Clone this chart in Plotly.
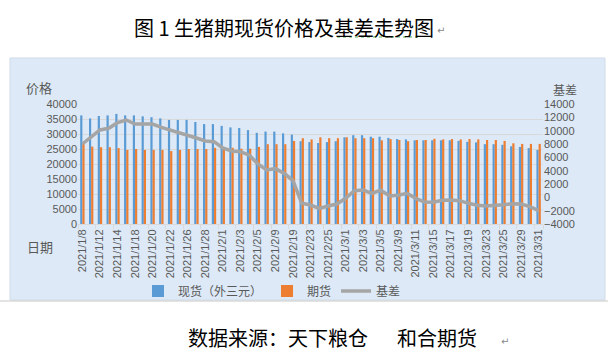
import plotly.graph_objects as go

dates = ["2021/1/8", "2021/1/11", "2021/1/12", "2021/1/13", "2021/1/14", "2021/1/15",
         "2021/1/18", "2021/1/19", "2021/1/20", "2021/1/21", "2021/1/22", "2021/1/25",
         "2021/1/26", "2021/1/27", "2021/1/28", "2021/1/29", "2021/2/1", "2021/2/2",
         "2021/2/3", "2021/2/4", "2021/2/5", "2021/2/8", "2021/2/9", "2021/2/10",
         "2021/2/19", "2021/2/22", "2021/2/23", "2021/2/24", "2021/2/25", "2021/2/26",
         "2021/3/1", "2021/3/2", "2021/3/3", "2021/3/4", "2021/3/5", "2021/3/8",
         "2021/3/9", "2021/3/10", "2021/3/11", "2021/3/12", "2021/3/15", "2021/3/16",
         "2021/3/17", "2021/3/18", "2021/3/19", "2021/3/22", "2021/3/23", "2021/3/24",
         "2021/3/25", "2021/3/26", "2021/3/29", "2021/3/30", "2021/3/31"]

spot = [36200, 35200, 36000, 36200, 36700, 36200, 36200, 35900, 35600, 35200, 34700, 34700,
        34700, 34000, 33300, 33300, 32700, 32200, 32000, 31300, 30400, 30800, 30800, 30200,
        29800, 27600, 27300, 27000, 27300, 27600, 28900, 29600, 29600, 29100, 29100, 28700,
        28300, 28200, 27900, 27900, 27900, 27900, 27900, 27700, 27400, 27200, 26600, 26600,
        26400, 25900, 25700, 25300, 24700]

futures = [26700, 25800, 25600, 25600, 25300, 24700, 25000, 24700, 24700, 24700, 24300, 24700,
           25000, 25000, 25000, 25400, 25100, 25400, 25100, 25100, 25700, 26600, 26600, 26600,
           27700, 28600, 28200, 28900, 28600, 28600, 28900, 28600, 28600, 28600, 27900, 28300,
           28000, 27600, 28000, 28000, 28400, 28200, 28300, 28200, 28300, 28200, 28000, 28000,
           27700, 26900, 26700, 26700, 26700]

basis = [8000, 9000, 10100, 10350, 11200, 11600, 11000, 11000, 11000, 10500, 10100, 9800,
         9350, 8900, 8450, 8350, 7400, 6950, 6850, 6350, 5000, 4100, 4300, 3600,
         2500, -900, -1150, -1650, -1300, -1000, -150, 1000, 1100, 600, 1100, 200,
         300, 600, -150, -700, -750, -450, -400, -500, -900, -1200, -1300, -1250,
         -1100, -950, -1000, -1400, -2000]

series_names = ["现货（外三元）", "期货", "基差"]
title_text = "图 1 生猪期现货价格及基差走势图"
source_text = "数据来源：天下粮仓　  和合期货"

W, H = 613, 363
L, R, T, B = 78, 543, 104, 224   # plot area in pixels


def px(x):
    return (x - L) / (R - L)


def py(y):
    return (B - y) / (B - T)


fig = go.Figure()
fig.add_trace(go.Bar(x=dates, y=spot, name=series_names[0], marker_color="#5b9bd5",
                     marker_line_width=0))
fig.add_trace(go.Bar(x=dates, y=futures, name=series_names[1], marker_color="#ed7d31",
                     marker_line_width=0))
fig.add_trace(go.Scatter(x=dates, y=basis, name=series_names[2], yaxis="y2", mode="lines",
                         line=dict(color="#a5a5a5", width=3.5)))

axis_font = dict(family="Liberation Sans, Arial, sans-serif", size=11, color="#595959")
cjk = "Noto Sans CJK SC"

fig.update_layout(
    width=W, height=H,
    margin=dict(l=L, r=W - R, t=T, b=H - B, pad=0, autoexpand=False),
    paper_bgcolor="white",
    plot_bgcolor="rgba(0,0,0,0)",
    barmode="group", bargap=0.5, bargroupgap=0.0,
    showlegend=True,
    legend=dict(orientation="h", x=px(138), y=py(291), xanchor="left", yanchor="middle",
                font=dict(family=cjk, size=12, color="#595959"),
                bgcolor="rgba(0,0,0,0)", itemwidth=30, tracegroupgap=0),
    xaxis=dict(type="category", tickmode="array", tickvals=dates[::2], ticktext=dates[::2],
               tickangle=-90, tickfont=axis_font, showgrid=False, automargin=False,
               showline=True, linecolor="#d9d9d9", linewidth=1,
               ticks="outside", ticklen=4, tickcolor="#d9d9d9", tickson="boundaries",
               range=[-0.5, len(dates) - 0.5]),
    yaxis=dict(range=[0, 40000], dtick=5000, tickfont=axis_font, showgrid=True,
               gridcolor="#d9d9d9", gridwidth=1, zeroline=False, showline=False,
               ticks="", tickformat="d", automargin=False),
    yaxis2=dict(range=[-4000, 14000], dtick=2000, overlaying="y", side="right",
                tickfont=axis_font, showgrid=False, zeroline=False, showline=False,
                tickformat="d", ticks="", automargin=False),
    font=dict(family=cjk),
)

shapes = [
    dict(type="rect", xref="paper", yref="paper", x0=px(10), x1=px(605), y0=py(300), y1=py(58),
         fillcolor="#dde9f6", line=dict(color="#d0dbe8", width=1), layer="below"),
    dict(type="line", xref="paper", yref="paper", x0=px(0), x1=px(608), y0=py(301), y1=py(301),
         line=dict(color="#c8c8c8", width=1)),
    # spell-check style wavy underline under part of the title
    dict(type="line", xref="paper", yref="paper", x0=px(337), x1=px(418), y0=py(37), y1=py(37),
         line=dict(color="#4caf50", width=1, dash="dot")),
]
fig.update_layout(shapes=shapes)

anns = [
    dict(text=title_text, x=px(284), y=py(27), font=dict(family=cjk, size=20, color="black")),
    dict(text="↵", x=px(441), y=py(30), font=dict(family="DejaVu Sans", size=10, color="#888888")),
    dict(text=source_text, x=px(332), y=py(337), font=dict(family=cjk, size=20, color="black")),
    dict(text="↵", x=px(505), y=py(341), font=dict(family="DejaVu Sans", size=10, color="#888888")),
    dict(text="价格", x=px(39), y=py(87), font=dict(family=cjk, size=13, color="#595959")),
    dict(text="基差", x=px(565), y=py(89), font=dict(family=cjk, size=12, color="#595959")),
    dict(text="日期", x=px(40), y=py(246), font=dict(family=cjk, size=13, color="#595959")),
]
for a in anns:
    a.update(xref="paper", yref="paper", showarrow=False, xanchor="center", yanchor="middle")
fig.update_layout(annotations=anns)

fig.write_html("out.html", config={"displayModeBar": False},
               post_script="document.body.style.margin='0';")
